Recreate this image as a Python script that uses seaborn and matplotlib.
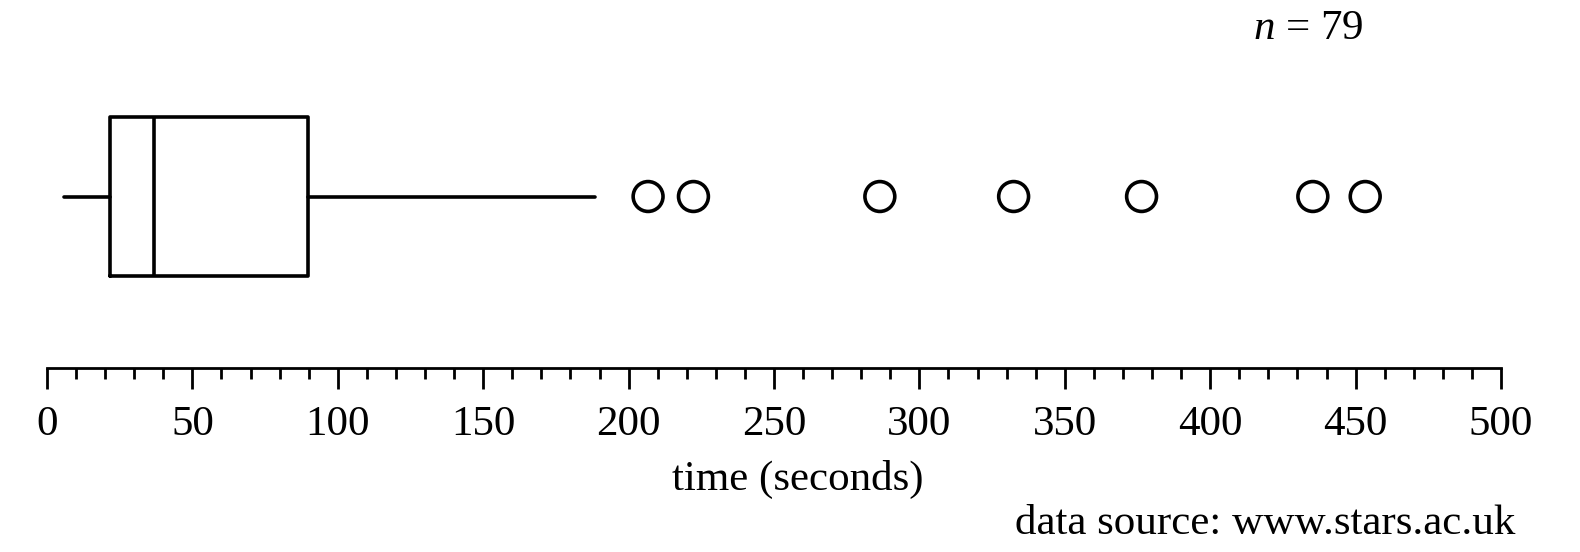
import matplotlib
matplotlib.use("Agg")
import matplotlib.pyplot as plt
import seaborn as sns

sns.set_theme(style="white")
plt.rcParams['font.family'] = ['Liberation Serif', 'DejaVu Serif']
plt.rcParams['mathtext.fontset'] = 'custom'
plt.rcParams['mathtext.rm'] = 'Liberation Serif'
plt.rcParams['mathtext.it'] = 'Liberation Serif:italic'
plt.rcParams['text.color'] = 'black'
plt.rcParams['xtick.color'] = 'black'
plt.rcParams['xtick.labelcolor'] = 'black'

# five-number summary (seconds)
whisker_low = 6
q1 = 21.5
median = 36.7
q3 = 89.7
whisker_high = 188.5
outliers = [206.7, 222.3, 286.4, 332.4, 376.4, 435.3, 453.3]
n_obs = 79
x_ticks = list(range(0, 501, 50))

fig = plt.figure(figsize=(15.8, 5.52), dpi=100)
ax = fig.add_axes([47 / 1580, 1 - 368 / 552, (1501 - 47) / 1580, (368 - 20) / 552])

lw = 2.6
stats = [dict(whislo=whisker_low, q1=q1, med=median, q3=q3, whishi=whisker_high, fliers=[])]
ax.bxp(stats, positions=[0], widths=[2], orientation='horizontal', showcaps=False,
       showfliers=False,
       boxprops=dict(color='black', linewidth=lw),
       medianprops=dict(color='black', linewidth=lw),
       whiskerprops=dict(color='black', linewidth=lw))

sns.scatterplot(x=outliers, y=[0] * len(outliers), marker='o', s=21.5 ** 2,
                facecolors='none', edgecolor='black', linewidth=lw, ax=ax,
                zorder=3, legend=False)

ax.set_xlim(0, 500)
ax.set_ylim(-2.157, 2.22)
ax.set_xticks(x_ticks)
ax.set_xticklabels([str(t) for t in x_ticks])
ax.set_xticks(range(0, 501, 10), minor=True)
ax.tick_params(axis='x', which='major', direction='out', length=15, width=2.0,
               color='black', labelsize=31, pad=12, bottom=True)
ax.tick_params(axis='x', which='minor', direction='out', length=8, width=2.0,
               color='black', bottom=True)
ax.set_yticks([])
for side in ['left', 'top', 'right']:
    ax.spines[side].set_visible(False)
ax.spines['bottom'].set_linewidth(2.0)
ax.spines['bottom'].set_color('black')

fig.text(798 / 1580, 1 - 479 / 552, 'time (seconds)', ha='center', va='center', fontsize=31)
fig.text(1515 / 1580, 1 - 524 / 552, 'data source: www.stars.ac.uk', ha='right', va='center', fontsize=31)
fig.text(1253 / 1580, 1 - 29 / 552, '$n$ = ' + str(n_obs), ha='left', va='center', fontsize=31)

fig.savefig('out.png', dpi=100)
